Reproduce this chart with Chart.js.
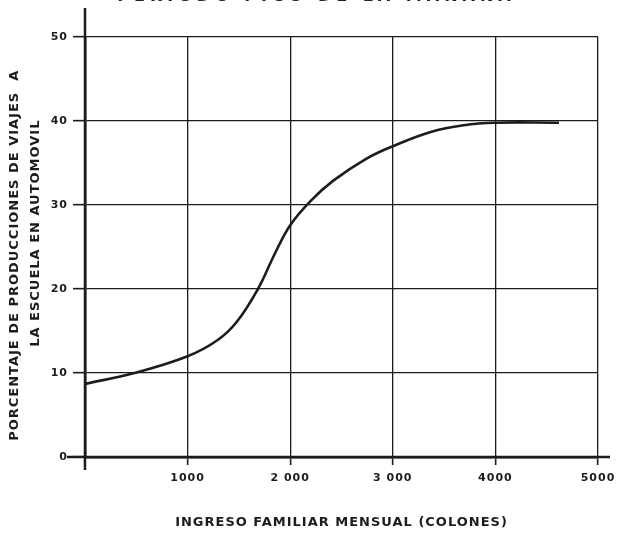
<!DOCTYPE html>
<html>
<head>
<meta charset="utf-8">
<script src="https://cdn.jsdelivr.net/npm/chart.js@4.4.0/dist/chart.umd.min.js"></script>
<style>
  html, body { margin: 0; padding: 0; background: #fff; overflow: hidden; }
  #wrap { position: relative; width: 633px; height: 541px; }
  #topTitle {
    position: absolute; top: -14px; left: 0; width: 633px; text-align: center;
    font: bold 16px 'DejaVu Sans', sans-serif; letter-spacing: 5px; color: #222;
  }
</style>
</head>
<body>
<div id="wrap">
  <div id="topTitle">PERIODO PICO DE LA MAÑANA</div>
  <canvas id="curveChart" width="633" height="541"></canvas>
</div>
<script>
// Income (colones) vs % of school trips by car
const income = [0, 480, 1000, 1290, 1480, 1690, 1850, 2000, 2200, 2420, 2740, 3000, 3370, 3690, 4000, 4620];
const pctAuto = [8.7, 10.0, 12.0, 13.9, 16.1, 20.1, 24.2, 27.6, 30.5, 32.9, 35.5, 37.0, 38.7, 39.5, 39.8, 39.8];

const xTickLabels = ['', '1000', '2 000', '3 000', '4000', '5000'];
const yTickLabels = ['0', '10', '20', '30', '40', '50'];

const xTitle = 'INGRESO FAMILIAR MENSUAL (COLONES)';
// trailing / leading blanks nudge each rotated line like the lettering in the original
const yTitle = ['PORCENTAJE DE PRODUCCIONES DE VIAJES  A   ', '     LA ESCUELA EN AUTOMOVIL'];

const ink = '#1c1c1c';
const tickFont = { family: 'DejaVu Sans', size: 11, weight: 'bold' };
const titleFont = { family: 'DejaVu Sans', size: 13, weight: 'bold', lineHeight: 1.6 };

// wide lettering, as in the stencilled labels
const spacedLetters = {
  id: 'spacedLetters',
  beforeDraw(chart) { chart.ctx.letterSpacing = '1px'; }
};

// long axis lines that run past the grid, like the hand-drawn original
const axisOvershoot = {
  id: 'axisOvershoot',
  afterDraw(chart) {
    const { ctx, chartArea: a } = chart;
    ctx.save();
    ctx.strokeStyle = ink;
    ctx.lineWidth = 2.5;
    ctx.beginPath();
    ctx.moveTo(a.left, a.top - 29);
    ctx.lineTo(a.left, a.bottom + 13);
    ctx.moveTo(a.left - 18, a.bottom);
    ctx.lineTo(a.right + 12, a.bottom);
    ctx.stroke();
    ctx.restore();
  }
};

window.addEventListener('DOMContentLoaded', () => {
  const ctx = document.getElementById('curveChart');

  new Chart(ctx, {
    type: 'scatter',
    data: {
      datasets: [{
        data: income.map((x, i) => ({ x, y: pctAuto[i] })),
        showLine: true,
        borderColor: ink,
        borderWidth: 2.6,
        pointRadius: 0,
        tension: 0.4,
        fill: false
      }]
    },
    options: {
      responsive: false,
      animation: false,
      layout: { padding: { top: 37, right: 35, left: 0, bottom: 0 } },
      plugins: { legend: { display: false }, tooltip: { enabled: false } },
      scales: {
        x: {
          type: 'linear',
          min: 0, max: 5000,
          afterFit: s => { s.height = 84; },
          grid: { color: ink, lineWidth: 1.3, tickLength: 8, tickColor: ink, tickWidth: 1.6 },
          border: { color: ink, width: 2.5 },
          ticks: {
            stepSize: 1000, padding: 7, color: ink, font: tickFont, maxRotation: 0,
            callback: (v, i) => xTickLabels[i]
          },
          title: { display: true, text: xTitle, color: ink, font: titleFont, padding: { top: 0, bottom: 8 } }
        },
        y: {
          min: 0, max: 50,
          afterFit: s => { s.width = 85; },
          grid: { color: ink, lineWidth: 1.3, tickLength: 12, tickColor: ink, tickWidth: 1.6 },
          border: { color: ink, width: 2.5 },
          ticks: {
            stepSize: 10, padding: 5, color: ink, font: tickFont,
            callback: (v, i) => yTickLabels[i]
          },
          title: { display: true, text: yTitle, color: ink, font: titleFont, padding: { top: 4, bottom: 0 } }
        }
      }
    },
    plugins: [spacedLetters, axisOvershoot]
  });
});
</script>
</body>
</html>
